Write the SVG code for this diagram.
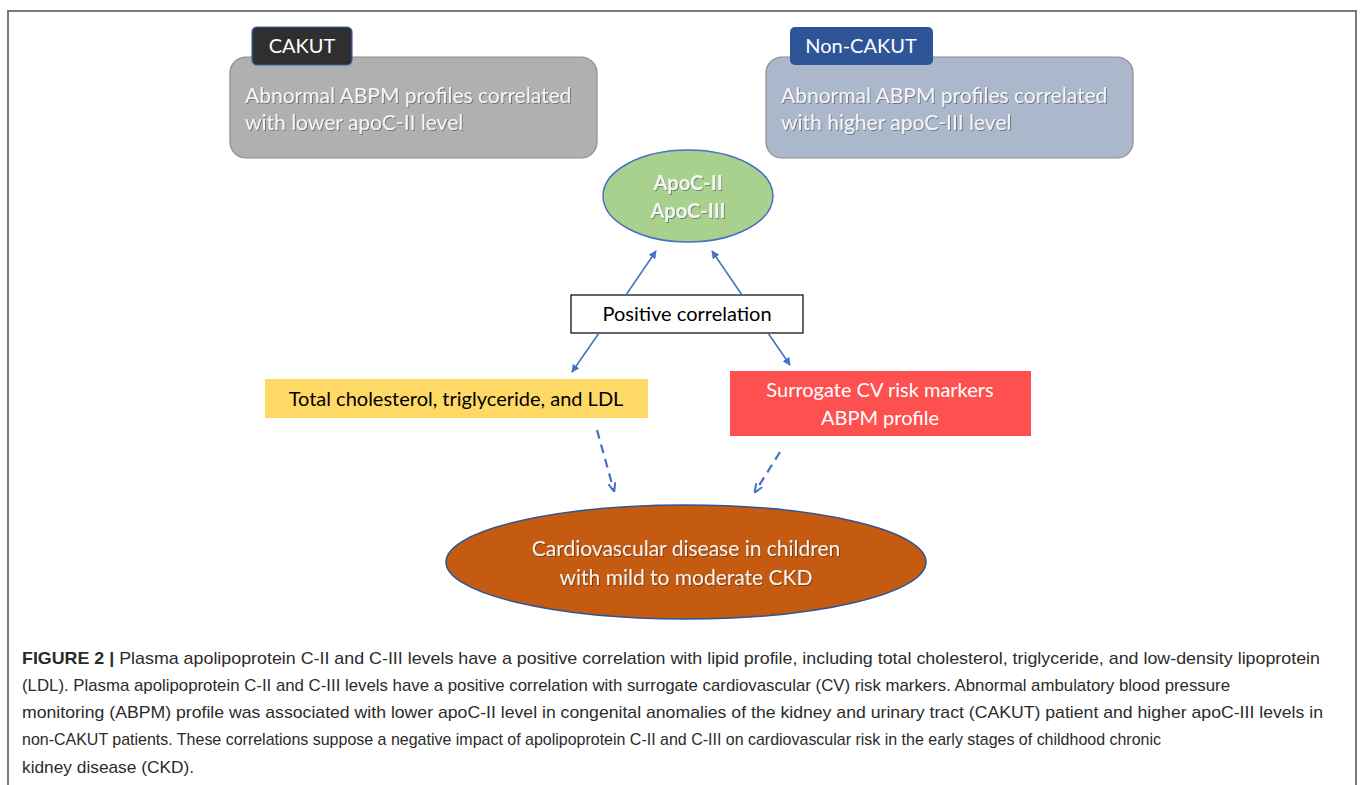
<svg xmlns="http://www.w3.org/2000/svg" width="1360" height="785" viewBox="0 0 1360 785">
  <style>
    .box { font-family: Lato, "Liberation Sans", sans-serif; }
    .wt { fill: #f4f4f4; filter: url(#sh); }
    .cap { font-family: "Liberation Sans", Arial, sans-serif; font-size: 17px; fill: #2b2b2b; }
    .conn { stroke: #4472c4; stroke-width: 1.6; fill: none; }
    .dash { stroke: #4472c4; stroke-width: 2.2; fill: none; stroke-dasharray: 9 6; }
  </style>
  <defs>
    <marker id="ah" viewBox="0 0 10 10" refX="9" refY="5" markerWidth="8" markerHeight="8" orient="auto" markerUnits="userSpaceOnUse">
      <path d="M0,0 L10,5 L0,10 z" fill="#4472c4"/>
    </marker>
    <marker id="ahd" viewBox="0 0 10 10" refX="9" refY="5" markerWidth="9" markerHeight="9" orient="auto" markerUnits="userSpaceOnUse">
      <path d="M0,1 L10,5 L0,9" fill="none" stroke="#4472c4" stroke-width="2.2"/>
    </marker>
    <filter id="sh" x="-5%" y="-20%" width="110%" height="140%">
      <feDropShadow dx="1" dy="1" stdDeviation="0.6" flood-color="#000" flood-opacity="0.35"/>
    </filter>
  </defs>
  <rect width="1360" height="785" fill="#ffffff"/>
  <path d="M8,785 L8,11 L1356,11 L1356,785" fill="none" stroke="#7a7a7a" stroke-width="2"/>

  <g id="cakut">
    <rect x="230" y="57" width="367" height="101" rx="16" fill="#b0b0b0" stroke="#8c8c8c" stroke-width="1.2"/>
    <rect x="252" y="27" width="100" height="38" rx="5" fill="#2f2f2f" stroke="#3e64a8" stroke-width="1.2"/>
    <text class="box" x="302" y="53" font-size="20" fill="#ffffff" text-anchor="middle">CAKUT</text>
    <text class="box wt" font-size="21"><tspan x="245" y="103">Abnormal ABPM profiles correlated</tspan><tspan x="245" y="130">with lower apoC-II level</tspan></text>
  </g>

  <g id="non-cakut">
    <rect x="766" y="57" width="367" height="101" rx="16" fill="#abb8cc" stroke="#8c8c8c" stroke-width="1.2"/>
    <rect x="790" y="27" width="143" height="38" rx="5" fill="#2e5597"/>
    <text class="box" x="861" y="53" font-size="20" fill="#ffffff" text-anchor="middle">Non-CAKUT</text>
    <text class="box wt" font-size="21"><tspan x="781" y="103">Abnormal ABPM profiles correlated</tspan><tspan x="781" y="130">with higher apoC-III level</tspan></text>
  </g>

  <g id="apoc">
    <ellipse cx="688" cy="196" rx="85" ry="46" fill="#a9d18e" stroke="#4472c4" stroke-width="1.5"/>
    <text class="box wt" font-size="20" font-weight="bold" text-anchor="middle"><tspan x="688" y="190">ApoC-II</tspan><tspan x="688" y="218">ApoC-III</tspan></text>
  </g>

  <g id="positive-correlation">
    <rect x="571" y="295" width="232" height="38" fill="#ffffff" stroke="#000000" stroke-width="1.2"/>
    <text class="box" x="687" y="321" font-size="20" fill="#000000" text-anchor="middle">Positive correlation</text>
  </g>

  <g id="lipids">
    <rect x="265" y="379" width="383" height="39" fill="#ffd966"/>
    <text class="box" x="456" y="406" font-size="20" fill="#000000" text-anchor="middle">Total cholesterol, triglyceride, and LDL</text>
  </g>

  <g id="cv-markers">
    <rect x="730" y="371" width="301" height="65" fill="#ff5050"/>
    <text class="box" font-size="20" fill="#ffffff" text-anchor="middle"><tspan x="880" y="397">Surrogate CV risk markers</tspan><tspan x="880" y="425">ABPM profile</tspan></text>
  </g>

  <g id="cvd">
    <ellipse cx="686" cy="562" rx="240" ry="57" fill="#c55a11" stroke="#2f5597" stroke-width="1.5"/>
    <text class="box wt" font-size="21" text-anchor="middle"><tspan x="686" y="556">Cardiovascular disease in children</tspan><tspan x="686" y="585">with mild to moderate CKD</tspan></text>
  </g>

  <g id="connectors">
    <line class="conn" x1="626" y1="295" x2="656" y2="251" marker-end="url(#ah)"/>
    <line class="conn" x1="742" y1="295" x2="712" y2="251" marker-end="url(#ah)"/>
    <line class="conn" x1="599" y1="333" x2="572" y2="372" marker-end="url(#ah)"/>
    <line class="conn" x1="768" y1="333" x2="790" y2="365" marker-end="url(#ah)"/>
    <line class="dash" x1="597" y1="430" x2="614" y2="491" marker-end="url(#ahd)"/>
    <line class="dash" x1="780" y1="452" x2="755" y2="492" marker-end="url(#ahd)"/>
  </g>

  <g id="caption">
    <text class="cap" x="22" y="664" textLength="1298" lengthAdjust="spacingAndGlyphs"><tspan font-weight="bold">FIGURE 2 |</tspan> Plasma apolipoprotein C-II and C-III levels have a positive correlation with lipid profile, including total cholesterol, triglyceride, and low-density lipoprotein</text>
    <text class="cap" x="22" y="691" textLength="1208" lengthAdjust="spacingAndGlyphs">(LDL). Plasma apolipoprotein C-II and C-III levels have a positive correlation with surrogate cardiovascular (CV) risk markers. Abnormal ambulatory blood pressure</text>
    <text class="cap" x="22" y="718" textLength="1301" lengthAdjust="spacingAndGlyphs">monitoring (ABPM) profile was associated with lower apoC-II level in congenital anomalies of the kidney and urinary tract (CAKUT) patient and higher apoC-III levels in</text>
    <text class="cap" x="22" y="745" textLength="1139" lengthAdjust="spacingAndGlyphs">non-CAKUT patients. These correlations suppose a negative impact of apolipoprotein C-II and C-III on cardiovascular risk in the early stages of childhood chronic</text>
    <text class="cap" x="22" y="773" textLength="172" lengthAdjust="spacingAndGlyphs">kidney disease (CKD).</text>
  </g>
</svg>
